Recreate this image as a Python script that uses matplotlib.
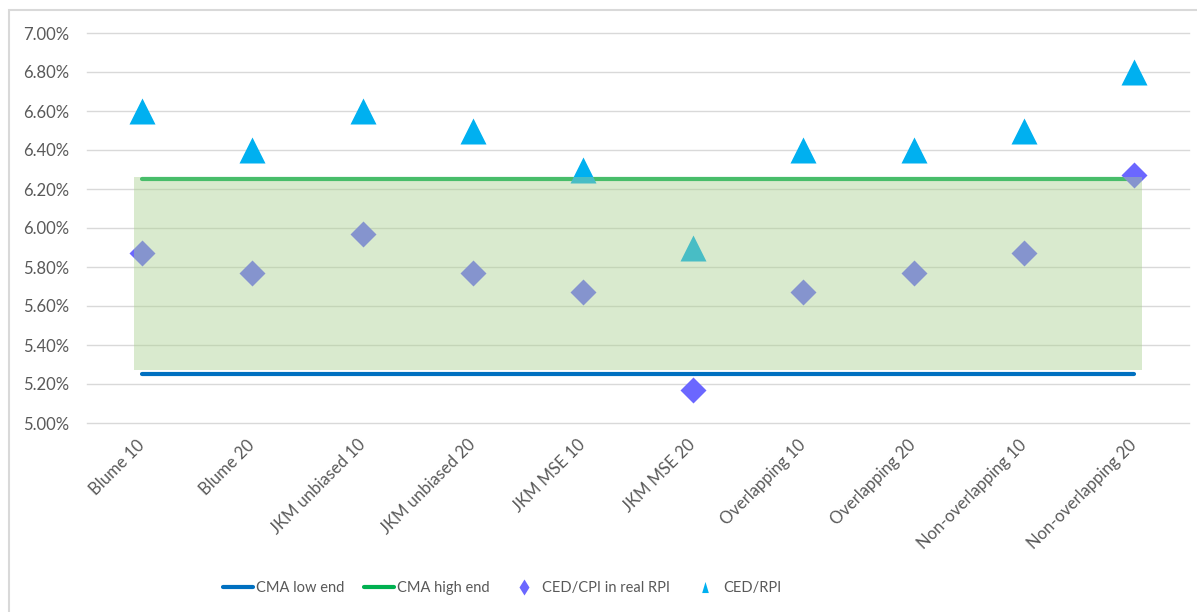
import matplotlib
matplotlib.use("Agg")
import matplotlib.pyplot as plt
from matplotlib.patches import Rectangle
from matplotlib.lines import Line2D
from matplotlib.ticker import FuncFormatter, MultipleLocator

# estimators compared against the CMA range
categories = ["Blume 10", "Blume 20", "JKM unbiased 10", "JKM unbiased 20",
              "JKM MSE 10", "JKM MSE 20", "Overlapping 10", "Overlapping 20",
              "Non-overlapping 10", "Non-overlapping 20"]
ced_cpi_real_rpi = [5.87, 5.77, 5.97, 5.77, 5.67, 5.17, 5.67, 5.77, 5.87, 6.27]
ced_rpi = [6.60, 6.40, 6.60, 6.50, 6.30, 5.90, 6.40, 6.40, 6.50, 6.80]
cma_low = 5.25
cma_high = 6.25
band_bottom = 5.27
band_top = 6.26

text_col = "#595959"
grid_col = "#D9D9D9"
plt.rcParams['font.family'] = ['Lato', 'DejaVu Sans']

fig = plt.figure(figsize=(11.97, 6.12), dpi=100)
ax = fig.add_axes([87 / 1197, 1 - 423 / 612, (1189 - 87) / 1197, (423 - 33) / 612])

x = list(range(len(categories)))

ax.plot([x[0], x[-1]], [cma_low, cma_low], color="#0070C0", lw=3,
        solid_capstyle="round", zorder=2)
ax.plot([x[0], x[-1]], [cma_high, cma_high], color="#00B050", lw=3,
        solid_capstyle="round", zorder=2)
ax.plot(x, ced_cpi_real_rpi, ls="none", marker="D", ms=13.5,
        color="#6B67FF", mec="none", zorder=3)
ax.plot(x, ced_rpi, ls="none", marker="^", ms=19,
        color="#00B0F0", mec="none", zorder=3)

# translucent band between the CMA ends, laid over the markers
ax.fill_between([x[0] - 0.07, x[-1] + 0.07], band_bottom, band_top,
                color="#A9D08E", alpha=0.43, lw=0, zorder=4)

ax.set_xlim(-0.5, len(categories) - 0.5)
ax.set_ylim(5.0, 7.0)
ax.yaxis.set_major_locator(MultipleLocator(0.2))
ax.yaxis.set_major_formatter(FuncFormatter(lambda v, p: f"{v:.2f}%"))
ax.grid(axis="y", color=grid_col, lw=1.0, zorder=0)
ax.set_axisbelow(True)
for gl in ax.get_ygridlines():
    gl.set_clip_on(False)
for s in ax.spines.values():
    s.set_visible(False)

ax.set_xticks(x)
ax.set_xticklabels(categories, rotation=45, ha="right", va="center",
                   rotation_mode="anchor")
ax.tick_params(axis="x", length=0, pad=14, labelsize=12, labelcolor=text_col)
ax.tick_params(axis="y", length=0, pad=13, labelsize=12, labelcolor=text_col)

narrow_tri = [(0, 1), (-0.6, -1), (0.6, -1)]
handles = [
    Line2D([], [], color="#0070C0", lw=3, solid_capstyle="round"),
    Line2D([], [], color="#00B050", lw=3, solid_capstyle="round"),
    Line2D([], [], ls="none", marker="d", ms=8, color="#6B67FF", mec="none"),
    Line2D([], [], ls="none", marker=narrow_tri, ms=8, color="#00B0F0", mec="none"),
]
labels = ["CMA low end", "CMA high end", "CED/CPI in real RPI", "CED/RPI"]
fig.legend(handles, labels, loc="center", bbox_to_anchor=(502 / 1197, 1 - 588 / 612),
           ncol=4, frameon=False, labelcolor=text_col, fontsize=10.5,
           handlelength=2.1, handletextpad=0.2, columnspacing=1.3)

# outer chart border
fig.patches.append(Rectangle((9 / 1197, -0.1), 1.2, 1 - 10 / 612 + 0.1,
                             transform=fig.transFigure, fill=False,
                             edgecolor=grid_col, lw=1.5))

fig.savefig("out.png", dpi=100)
